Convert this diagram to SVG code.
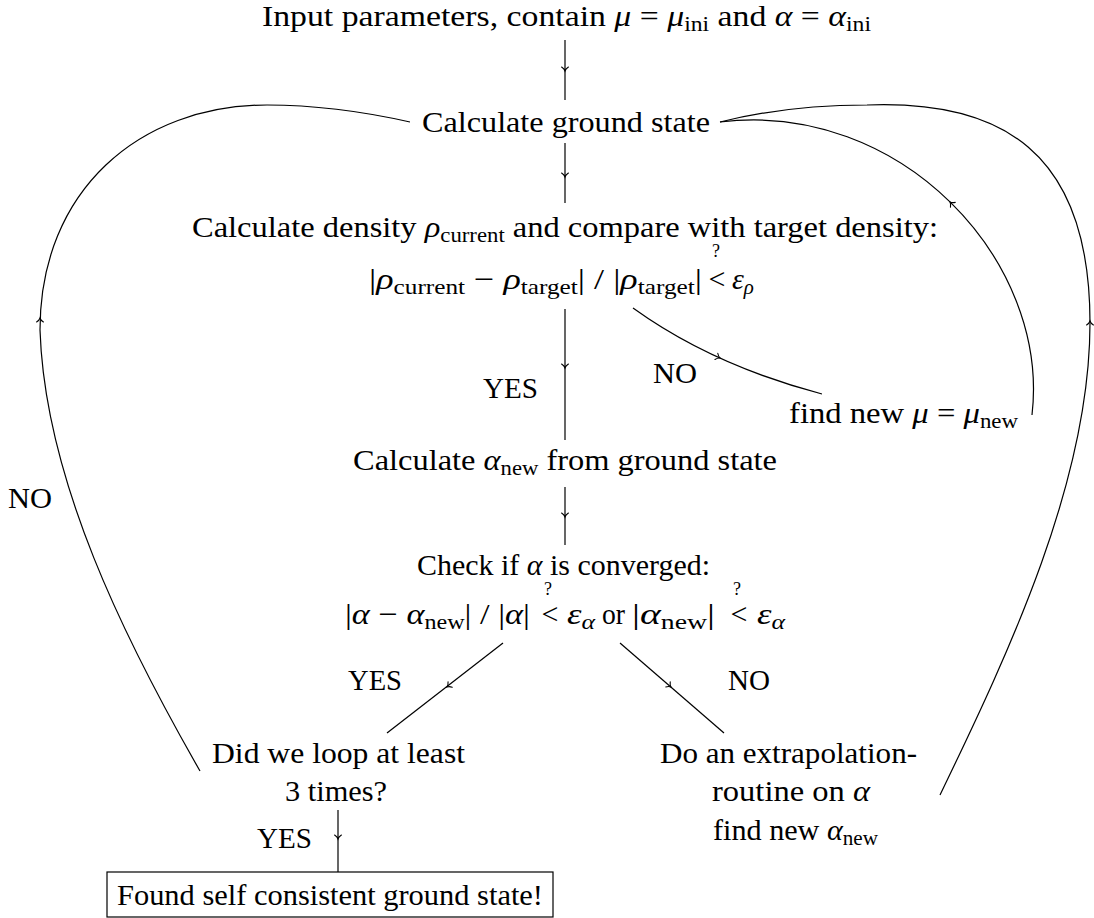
<svg xmlns="http://www.w3.org/2000/svg" xmlns:xlink="http://www.w3.org/1999/xlink" width="1094" height="918" viewBox="0 0 1094 918" font-family="Liberation Serif, Times New Roman, serif">
<style>
text{font-size:30px;fill:#000}
.i{font-style:italic}
.s{font-size:21px}
.q{font-size:18px}
.c{fill:none;stroke:#000;stroke-width:1.2}
.t{fill:none;stroke:#000;stroke-width:1.1;stroke-linecap:round}
</style>
<defs>
<path id="tip" class="t" d="M-4,-3.4 C-2.6,-1.3 -0.9,-0.3 0,0 C-0.9,0.3 -2.6,1.3 -4,3.4"/>
</defs>
<rect width="1094" height="918" fill="#fff"/>

<g id="connectors">
<path class="c" d="M565,40 V100"/>
<path class="c" d="M565,143 V203"/>
<path class="c" d="M565,309 V440"/>
<path class="c" d="M633,308 Q712,365 822,394"/>
<path class="c" d="M1032,415 C1050,260 900,100 720,122"/>
<path class="c" d="M565,487 V545"/>
<path class="c" d="M503,643 L387,733"/>
<path class="c" d="M620,643 L724,733"/>
<path class="c" d="M940,795 C1010,650 1090,480 1090,323 C1090,150 1000,100 867,105 C810,105 760,112 720,122"/>
<path class="c" d="M200,771 C125,640 45,480 40,330 C40,190 140,105 267,105 C320,105 370,113 410,122"/>
<path class="c" d="M338,810 V872"/>
<use xlink:href="#tip" transform="translate(565,71) rotate(90)"/>
<use xlink:href="#tip" transform="translate(565,177) rotate(90)"/>
<use xlink:href="#tip" transform="translate(565,368) rotate(90)"/>
<use xlink:href="#tip" transform="translate(720,358) rotate(24.5)"/>
<use xlink:href="#tip" transform="translate(950,202) rotate(-135.6)"/>
<use xlink:href="#tip" transform="translate(565,517) rotate(90)"/>
<use xlink:href="#tip" transform="translate(447,687) rotate(142)"/>
<use xlink:href="#tip" transform="translate(671,687) rotate(41)"/>
<use xlink:href="#tip" transform="translate(1090,321) rotate(-90)"/>
<use xlink:href="#tip" transform="translate(40,318) rotate(-90)"/>
<use xlink:href="#tip" transform="translate(338,839) rotate(90)"/>
</g>

<g id="edge-labels">
<text x="653" y="383" textLength="44" lengthAdjust="spacingAndGlyphs">NO</text>
<text x="483" y="398" textLength="55" lengthAdjust="spacingAndGlyphs">YES</text>
<text x="348" y="690" textLength="54" lengthAdjust="spacingAndGlyphs">YES</text>
<text x="728" y="690" textLength="42" lengthAdjust="spacingAndGlyphs">NO</text>
<text x="8" y="508" textLength="44" lengthAdjust="spacingAndGlyphs">NO</text>
<text x="257" y="848" textLength="55" lengthAdjust="spacingAndGlyphs">YES</text>
</g>

<g id="n-input">
<text x="262" y="26" textLength="609" lengthAdjust="spacingAndGlyphs">Input parameters, contain <tspan class="i">μ</tspan> = <tspan class="i">μ</tspan><tspan class="s" dy="5">ini</tspan><tspan dy="-5"> and </tspan><tspan class="i">α</tspan> = <tspan class="i">α</tspan><tspan class="s" dy="5">ini</tspan></text>
</g>

<g id="n-ground">
<text x="422" y="132" textLength="288" lengthAdjust="spacingAndGlyphs">Calculate ground state</text>
</g>

<g id="n-density">
<text x="192" y="237" textLength="746" lengthAdjust="spacingAndGlyphs">Calculate density <tspan class="i">ρ</tspan><tspan class="s" dy="5">current</tspan><tspan dy="-5"> and compare with target density:</tspan></text>
<text x="369" y="289" textLength="333" lengthAdjust="spacingAndGlyphs">|<tspan class="i">ρ</tspan><tspan class="s" dy="5">current</tspan><tspan dy="-5"> − </tspan><tspan class="i">ρ</tspan><tspan class="s" dy="5">target</tspan><tspan dy="-5">| / |</tspan><tspan class="i">ρ</tspan><tspan class="s" dy="5">target</tspan><tspan dy="-5">|</tspan></text>
<text x="717" y="289" text-anchor="middle">&lt;</text>
<text class="q" x="716" y="257" text-anchor="middle">?</text>
<text x="732" y="289"><tspan class="i">ε</tspan><tspan class="i s" dy="5">ρ</tspan></text>
</g>

<g id="n-munew">
<text x="789" y="423" textLength="229" lengthAdjust="spacingAndGlyphs">find new <tspan class="i">μ</tspan> = <tspan class="i">μ</tspan><tspan class="s" dy="5">new</tspan></text>
</g>

<g id="n-alphanew">
<text x="353" y="470" textLength="424" lengthAdjust="spacingAndGlyphs">Calculate <tspan class="i">α</tspan><tspan class="s" dy="5">new</tspan><tspan dy="-5"> from ground state</tspan></text>
</g>

<g id="n-check">
<text x="417" y="575" textLength="293" lengthAdjust="spacingAndGlyphs">Check if <tspan class="i">α</tspan> is converged:</text>
<text x="345" y="624" textLength="185" lengthAdjust="spacingAndGlyphs">|<tspan class="i">α</tspan> − <tspan class="i">α</tspan><tspan class="s" dy="5">new</tspan><tspan dy="-5">| / |</tspan><tspan class="i">α</tspan>|</text>
<text x="550" y="624" text-anchor="middle">&lt;</text>
<text class="q" x="548" y="595" text-anchor="middle">?</text>
<text x="567" y="624" textLength="28" lengthAdjust="spacingAndGlyphs"><tspan class="i">ε</tspan><tspan class="i s" dy="5">α</tspan></text>
<text x="602" y="624" textLength="23" lengthAdjust="spacingAndGlyphs">or</text>
<text x="632" y="624" textLength="83" lengthAdjust="spacingAndGlyphs">|<tspan class="i">α</tspan><tspan class="s" dy="5">new</tspan><tspan dy="-5">|</tspan></text>
<text x="739" y="624" text-anchor="middle">&lt;</text>
<text class="q" x="737" y="595" text-anchor="middle">?</text>
<text x="757" y="624" textLength="28" lengthAdjust="spacingAndGlyphs"><tspan class="i">ε</tspan><tspan class="i s" dy="5">α</tspan></text>
</g>

<g id="n-loop">
<text x="212" y="763" textLength="253" lengthAdjust="spacingAndGlyphs">Did we loop at least</text>
<text x="285" y="801" textLength="102" lengthAdjust="spacingAndGlyphs">3 times?</text>
</g>

<g id="n-extrap">
<text x="660" y="763" textLength="257" lengthAdjust="spacingAndGlyphs">Do an extrapolation-</text>
<text x="712" y="801" textLength="158" lengthAdjust="spacingAndGlyphs">routine on <tspan class="i">α</tspan></text>
<text x="713" y="840" textLength="165" lengthAdjust="spacingAndGlyphs">find new <tspan class="i">α</tspan><tspan class="s" dy="5">new</tspan></text>
</g>

<g id="n-found">
<rect x="107" y="872" width="446" height="45" fill="none" stroke="#000" stroke-width="1.2"/>
<text x="117" y="905" textLength="426" lengthAdjust="spacingAndGlyphs">Found self consistent ground state!</text>
</g>
</svg>
